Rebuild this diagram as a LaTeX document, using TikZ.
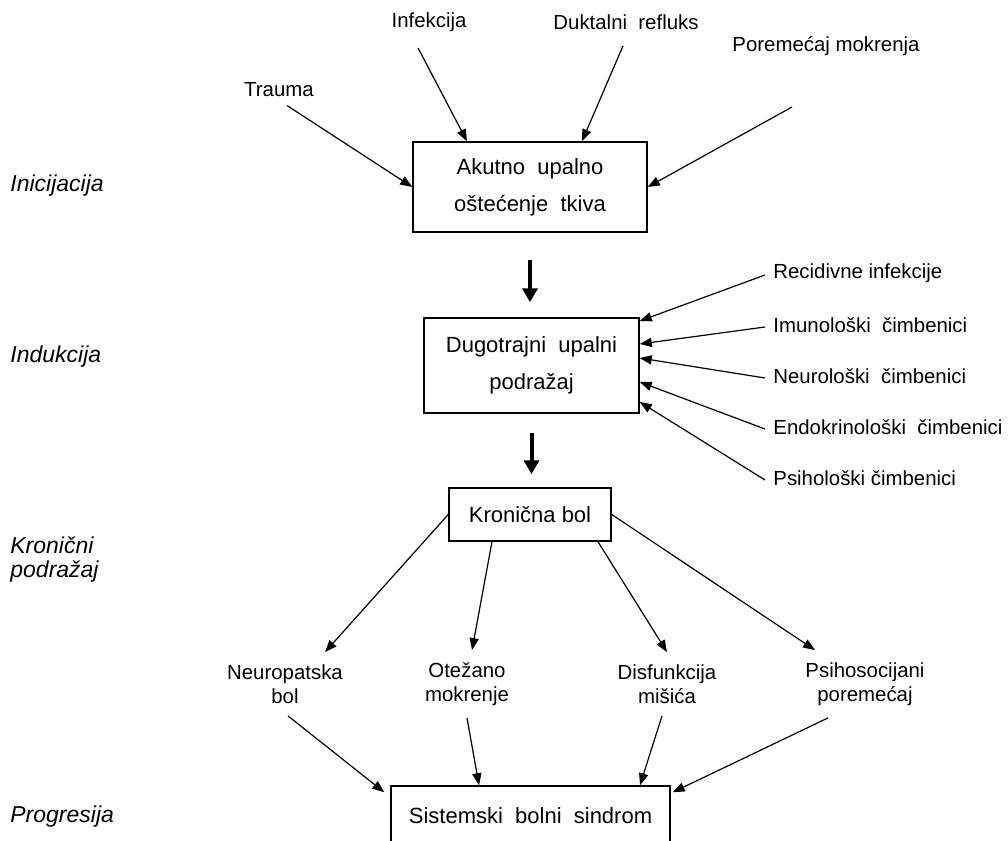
\documentclass[tikz,border=0pt]{standalone}
\usepackage{fontspec}
\setmainfont{Liberation Sans}
\usetikzlibrary{arrows.meta}

\tikzset{
  box/.style={draw, line width=0.75pt, align=center, inner sep=2pt,
    font=\fontsize{11}{18.5}\selectfont},
  lbl/.style={inner sep=4pt, align=center, font=\fontsize{10.2}{12}\selectfont},
  stage/.style={anchor=west, align=left, inner sep=0pt,
    font=\fontsize{11.5}{12}\selectfont\itshape},
  pil/.style={-{Triangle[length=6pt,width=4.6pt]}, line width=0.6pt},
  bigpil/.style={-{Triangle[length=7pt,width=7.5pt]}, line width=2pt},
}

\begin{document}
\begin{tikzpicture}[x=0.5pt, y=-0.5pt]
    \useasboundingbox (0,0) rectangle (1008,841);
    \clip (0,0) rectangle (1008,841);
    % Faze
    \node[stage] (s1) at (10,186) {Inicijacija};
    \node[stage] (s2) at (10,357) {Indukcija};
    \node[stage] (s3) at (10,560) {Kronični\\podražaj};
    \node[stage] (s4) at (10,817) {Progresija};
    % Okviri
    \node[box, minimum width=117pt, minimum height=45pt] (a1) at (530,187) {Akutno\ \ upalno\\oštećenje\ \ tkiva};
    \node[box, minimum width=107.5pt, minimum height=47.5pt] (a2) at (531.5,365.5) {Dugotrajni\ \ upalni\\podražaj};
    \node[box, minimum width=81pt, minimum height=26.5pt] (a3) at (530,514.5) {Kronična bol};
    \node[box, minimum width=139.5pt, minimum height=30pt] (a4) at (530.5,816) {Sistemski\ \ bolni\ \ sindrom};
    % Uzroci
    \node[lbl] (tr) at (279,90) {Trauma};
    \node[lbl] (inf) at (429,22) {Infekcija};
    \node[lbl] (duk) at (626,22) {Duktalni\ \ refluks};
    \node[lbl] (por) at (826,46) {Poremećaj mokrenja};
    \coordinate (porkraj) at (792,107);
    \draw[pil] ([xshift=4pt]tr.south) -- (a1.west);
    \draw[pil] ([xshift=-5.5pt,yshift=-4pt]inf.south) -- ([xshift=-31.5pt]a1.north);
    \draw[pil] ([xshift=-1.5pt,yshift=-4pt]duk.south) -- ([xshift=26pt]a1.north);
    \draw[pil] (porkraj) -- (a1.east);
    % Cimbenici
    \node[lbl, anchor=west] (rec) at (765,273) {Recidivne infekcije};
    \node[lbl, anchor=west] (imu) at (765,325) {Imunološki\ \ čimbenici};
    \node[lbl, anchor=west] (neu) at (765,376) {Neurološki\ \ čimbenici};
    \node[lbl, anchor=west] (endo) at (765,427) {Endokrinološki\ \ čimbenici};
    \node[lbl, anchor=west] (psi) at (765,478) {Psihološki čimbenici};
    \foreach \n/\dy in {rec/22.25, imu/10.75, neu/3.75, endo/-8.25, psi/-18.25}
      \draw[pil] ([yshift=-1pt]\n.west) -- ([yshift=\dy pt]a2.east);
    % Tok
    \draw[bigpil, shorten <=13.5pt, shorten >=7.5pt] (a1.south) -- (a1.south |- a2.north);
    \draw[bigpil, shorten <=9.5pt, shorten >=6.5pt] (a2.south) -- (a2.south |- a3.north);
    % Posljedice
    \node[lbl, inner sep=6pt] (np) at (285,684) {Neuropatska\\bol};
    \node[lbl, inner sep=6pt] (ot) at (467,684) {Otežano\\mokrenje};
    \node[lbl, inner sep=6pt] (dis) at (667,684) {Disfunkcija\\mišića};
    \node[lbl, inner sep=6pt] (ps) at (865,684) {Psihosocijani\\poremećaj};
    \draw[pil] (a3.west) -- ([xshift=20pt]np.north);
    \draw[pil] ([xshift=-19pt]a3.south) -- ([xshift=2.5pt]ot.north);
    \draw[pil] ([xshift=34pt]a3.south) -- (dis.north);
    \draw[pil] (a3.east) -- ([xshift=-25pt]ps.north);
    \draw[pil] ([xshift=1.5pt]np.south) -- ([shift={(-3pt,-3.5pt)}]a4.north west);
    \draw[pil] (ot.south) -- ([xshift=-25.75pt]a4.north);
    \draw[pil] ([xshift=-2.5pt]dis.south) -- ([xshift=54.75pt]a4.north);
    \draw[pil] ([xshift=-18.5pt]ps.south) -- ([shift={(1pt,-3.5pt)}]a4.north east);
\end{tikzpicture}
\end{document}
